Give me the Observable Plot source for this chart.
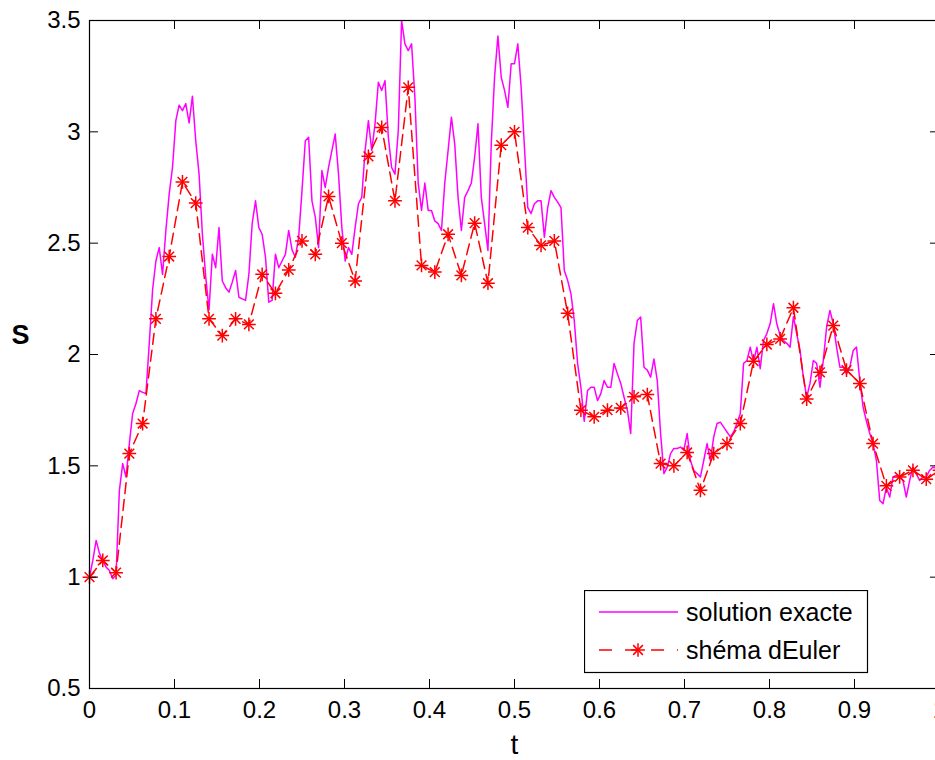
<!DOCTYPE html>
<html>
<head>
<meta charset="utf-8">
<script src="https://cdn.jsdelivr.net/npm/d3@7"></script>
<script src="https://cdn.jsdelivr.net/npm/@observablehq/plot@0.6"></script>
<style>
  html, body { margin: 0; padding: 0; overflow: hidden; background: #fff; }
  #wrap { position: relative; width: 935px; height: 760px; overflow: hidden; }
  #chart { width: 945px; }
  #chart svg { max-width: none !important; display: block; }
  #legend { position: absolute; left: 584px; top: 590px; }
</style>
</head>
<body>
<div id="wrap"><div id="chart"></div><div id="legend"></div></div>
<script>
// Exact solution (fine grid, N = 256 steps on [0, 1])
const exactS = [
1.00,1.075,1.165,1.107,1.075,1.045,1.03,0.993,1.01,1.39,
1.51,1.45,1.60,1.735,1.78,1.838,1.83,1.825,2.05,2.29,
2.42,2.48,2.36,2.557,2.72,2.84,3.05,3.12,3.095,3.127,
3.04,3.16,2.96,2.81,2.54,2.35,2.20,2.45,2.39,2.57,
2.33,2.30,2.28,2.325,2.377,2.257,2.25,2.243,2.36,2.588,
2.69,2.57,2.54,2.437,2.235,2.243,2.45,2.39,2.42,2.45,
2.557,2.47,2.437,2.527,2.736,2.96,2.976,2.69,2.617,2.48,
2.826,2.75,2.84,2.916,2.99,2.81,2.57,2.42,2.48,2.45,
2.57,2.677,2.706,2.916,3.05,2.916,3.036,3.223,3.186,3.23,
2.976,2.84,2.81,3.006,3.5,3.395,3.365,3.395,3.156,2.77,
2.647,2.77,2.647,2.647,2.60,2.588,2.557,2.77,2.916,3.066,
2.946,2.706,2.557,2.706,2.736,2.77,2.886,3.036,2.706,2.588,
2.467,2.946,3.246,3.43,3.246,3.186,3.11,3.306,3.306,3.395,
3.20,2.93,2.66,2.633,2.677,2.69,2.69,2.527,2.66,2.736,
2.706,2.684,2.66,2.377,2.333,2.273,2.153,1.96,1.853,1.70,
1.838,1.853,1.853,1.793,1.824,1.883,1.853,1.853,1.96,1.913,
1.87,1.808,1.75,1.645,2.05,2.153,2.168,1.943,1.93,1.898,
1.98,1.883,1.645,1.465,1.494,1.555,1.578,1.578,1.584,1.57,
1.645,1.524,1.479,1.465,1.45,1.524,1.60,1.524,1.63,1.69,
1.696,1.674,1.652,1.63,1.652,1.69,1.735,1.96,1.973,2.033,
1.966,2.033,1.936,2.063,2.094,2.138,2.228,2.138,2.085,2.063,
2.05,2.033,2.17,2.094,2.018,1.898,1.808,1.87,1.973,1.96,
1.853,1.973,2.123,2.198,2.138,2.033,1.943,1.943,1.913,1.943,
2.018,2.033,1.883,1.763,1.70,1.645,1.60,1.524,1.344,1.33,
1.404,1.36,1.45,1.457,1.45,1.434,1.36,1.434,1.494,1.465,
1.434,1.45,1.45,1.479,1.494,1.49,1.48
];
// Euler scheme (coarse grid, L = 64 steps)
const eulerS = [
1.00,1.075,1.02,1.555,1.69,2.16,2.44,2.775,2.68,2.16,
2.085,2.16,2.135,2.36,2.275,2.38,2.51,2.45,2.71,2.50,
2.33,2.89,3.02,2.69,3.20,2.40,2.37,2.54,2.355,2.59,
2.32,2.94,3.00,2.57,2.49,2.51,2.185,1.75,1.72,1.75,
1.76,1.81,1.82,1.51,1.50,1.56,1.39,1.555,1.60,1.69,
1.97,2.045,2.07,2.21,1.80,1.92,2.13,1.93,1.87,1.60,
1.41,1.45,1.48,1.44,1.48
];
const xTicks = [0, 0.1, 0.2, 0.3, 0.4, 0.5, 0.6, 0.7, 0.8, 0.9, 1];
const yTicks = [0.5, 1, 1.5, 2, 2.5, 3, 3.5];
const xLabel = "t";
const yLabel = "S";
const legendLabels = ["solution exacte", "shéma dEuler"];

const N = exactS.length - 1;
const L = eulerS.length - 1;
const exact = exactS.map((s, i) => ({t: i / N, s}));
const euler = eulerS.map((s, k) => ({t: k / L, s}));

const W = 945, H = 760, mL = 89, mR = 6, mT = 20, mB = 72;
const plotW = W - mL - mR, plotH = H - mT - mB, tk = 9;
const font = "'Liberation Sans', Arial, Helvetica, sans-serif";
const fmt = d => String(d);

const chart = Plot.plot({
  width: W, height: H,
  marginLeft: mL, marginRight: mR, marginTop: mT, marginBottom: mB,
  style: {fontFamily: font, fontSize: "24px", background: "white", color: "black", maxWidth: "none"},
  x: {domain: [0, 1]},
  y: {domain: [0.5, 3.5]},
  marks: [
    Plot.line(exact, {x: "t", y: "s", stroke: "#ff00ff", strokeWidth: 1.5, clip: true}),
    Plot.line(euler, {x: "t", y: "s", stroke: "#ff0000", strokeWidth: 1.5, strokeDasharray: "11,6", clip: true}),
    Plot.dot(euler, {x: "t", y: "s", symbol: "plus", r: 4.5, stroke: "#ff0000", strokeWidth: 1.5}),
    Plot.dot(euler, {x: "t", y: "s", symbol: "times", r: 4.5, stroke: "#ff0000", strokeWidth: 1.5}),
    Plot.frame({stroke: "black", strokeWidth: 1.2}),
    Plot.ruleX(xTicks, {x: d => d, insetTop: plotH - tk, stroke: "black"}),
    Plot.ruleX(xTicks, {x: d => d, insetBottom: plotH - tk, stroke: "black"}),
    Plot.ruleY(yTicks, {y: d => d, insetRight: plotW - tk, stroke: "black"}),
    Plot.ruleY(yTicks, {y: d => d, insetLeft: plotW - tk, stroke: "black"}),
    Plot.axisX(xTicks, {anchor: "bottom", tickSize: 0, tickPadding: 12, label: null, fontSize: 24, tickFormat: fmt}),
    Plot.axisY(yTicks, {anchor: "left", tickSize: 0, tickPadding: 9, label: null, fontSize: 24, tickFormat: fmt}),
    Plot.text([xLabel], {frameAnchor: "bottom", dy: 57, lineAnchor: "middle", textAnchor: "middle", fontSize: 28}),
    Plot.text([yLabel], {frameAnchor: "left", dx: -69, dy: -19, lineAnchor: "middle", textAnchor: "middle", fontSize: 27, fontWeight: "bold"})
  ]
});
document.getElementById("chart").append(chart);

// Legend (inside the axes, lower right)
const lg = d3.select("#legend").append("svg").attr("width", 285).attr("height", 84);
lg.append("rect").attr("x", 0.5).attr("y", 0.5).attr("width", 283).attr("height", 82)
  .attr("fill", "white").attr("stroke", "black").attr("stroke-width", 1.2);
lg.append("line").attr("x1", 15).attr("x2", 94).attr("y1", 22).attr("y2", 22)
  .attr("stroke", "#ff00ff").attr("stroke-width", 1.5);
lg.append("line").attr("x1", 15).attr("x2", 94).attr("y1", 60).attr("y2", 60)
  .attr("stroke", "#ff0000").attr("stroke-width", 1.5).attr("stroke-dasharray", "13,13");
const sz = Math.PI * 4.5 * 4.5;
[d3.symbolPlus, d3.symbolTimes].forEach(sym => {
  lg.append("path").attr("d", d3.symbol(sym, sz)()).attr("transform", "translate(54,60)")
    .attr("fill", "none").attr("stroke", "#ff0000").attr("stroke-width", 1.5);
});
legendLabels.forEach((txt, i) => {
  lg.append("text").attr("x", 102).attr("y", 31 + i * 38).text(txt)
    .attr("font-family", font).attr("font-size", 25).attr("fill", "black");
});
</script>
</body>
</html>
